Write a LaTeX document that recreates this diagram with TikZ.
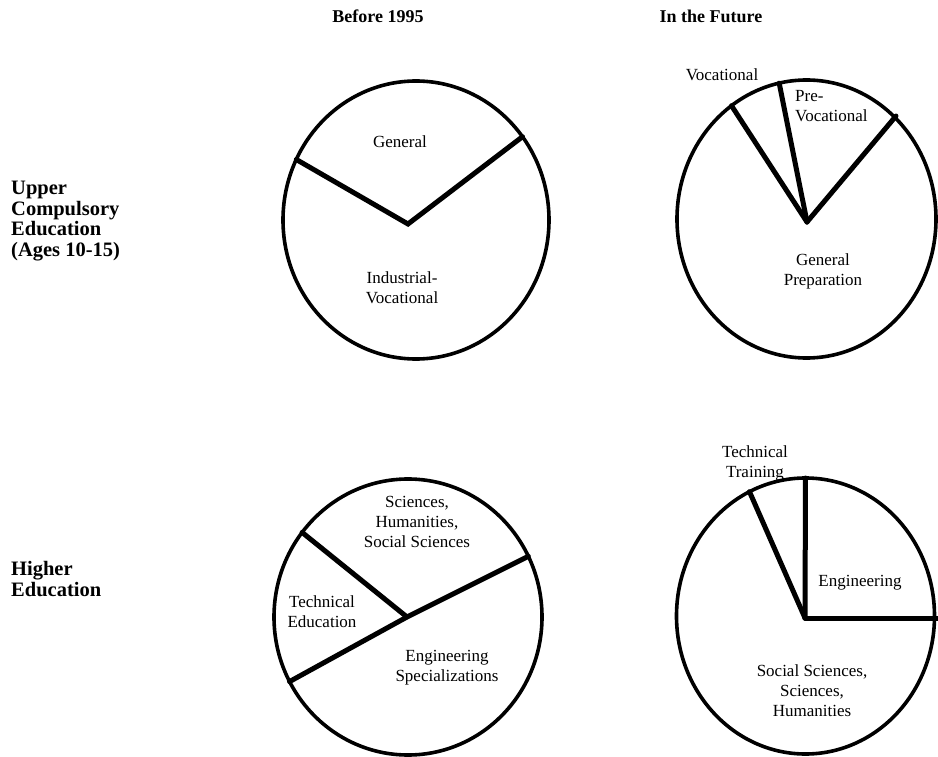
\documentclass[tikz,border=0pt]{standalone}
\usepackage{fontspec}
\setmainfont{Liberation Serif}
\begin{document}
\begin{tikzpicture}[x=1pt,y=-1pt,
  rim/.style={line width=3.6pt},
  spoke/.style={line width=5pt, line cap=round},
  lbl/.style={inner sep=0pt, align=center, font=\fontsize{17}{20}\selectfont},
  head/.style={inner sep=0pt, font=\bfseries\fontsize{18}{20}\selectfont},
  rowlbl/.style={inner sep=0pt, anchor=west, align=left, font=\bfseries\fontsize{20.5}{20.5}\selectfont}]
\useasboundingbox (0,0) rectangle (938,757);
% headers
\node[head] (h1) at (378,16) {Before 1995};
\node[head] (h2) at (711,16) {In the Future};
\node[rowlbl] (r1) at (11,221) {Upper\\Compulsory\\Education\\(Ages 10-15)};
\node[rowlbl] (r2) at (11,579) {Higher\\Education};
% pie 1
\coordinate (c1) at (416,220);
\coordinate (v1) at (408,224);
\coordinate (p1a) at (296.3,159.5);
\coordinate (p1b) at (522.5,136.7);
\draw[spoke] (p1a) -- (v1) -- (p1b);
\draw[rim] (c1) ellipse [x radius=133, y radius=139];
\node[lbl] (g1) at (400,142) {General};
\node[lbl] (iv) at (402,288) {Industrial-\\Vocational};
% pie 2
\coordinate (c2) at (806.5,219);
\coordinate (v2) at (807,222);
\coordinate (p2a) at (731.5,105.7);
\coordinate (p2b) at (779.2,83.2);
\coordinate (p2c) at (896,116);
\draw[spoke] (v2) -- (p2a);
\draw[spoke] (v2) -- (p2b);
\draw[spoke] (v2) -- (p2c);
\draw[rim] (c2) ellipse [x radius=129.5, y radius=139];
\node[lbl] (voc) at (722,75) {Vocational};
\node[lbl, anchor=west, align=left] (pv) at (795,106) {Pre-\\Vocational};
\node[lbl] (gp) at (823,271) {General\\Preparation};
% pie 3
\coordinate (c3) at (408,617);
\coordinate (v3) at (407,617);
\coordinate (p3a) at (289.5,681.6);
\coordinate (p3b) at (528.3,556.3);
\coordinate (p3c) at (302.1,532.4);
\draw[spoke] (p3a) -- (v3) -- (p3b);
\draw[spoke] (v3) -- (p3c);
\draw[rim] (c3) ellipse [x radius=134, y radius=138];
\node[lbl] (shs) at (417,522) {Sciences,\\Humanities,\\Social Sciences};
\node[lbl] (te) at (322,612) {Technical\\Education};
\node[lbl] (es) at (447,668) {Engineering\\Specializations};
% pie 4
\coordinate (c4) at (805.5,616);
\coordinate (v4) at (805,618);
\coordinate (p4a) at (749.5,491.7);
\coordinate (p4b) at (805.5,478);
\coordinate (p4c) at (938,618);
\draw[spoke] (v4) -- (p4a);
\draw[spoke] (v4) -- (p4b);
\draw[spoke] (v4) -- (p4c);
\draw[rim] (c4) ellipse [x radius=129, y radius=138];
\node[lbl] (tt) at (755,463) {Technical\\Training};
\node[lbl] (eng) at (860,583) {Engineering};
\node[lbl] (ssh) at (812,691) {Social Sciences,\\Sciences,\\Humanities};
\end{tikzpicture}
\end{document}
